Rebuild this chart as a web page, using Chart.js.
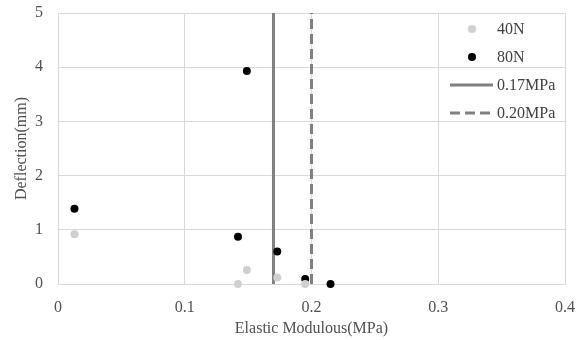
<!DOCTYPE html>
<html>
<head>
<meta charset="utf-8">
<script src="https://cdn.jsdelivr.net/npm/chart.js@4/dist/chart.umd.min.js"></script>
<style>
    html, body { margin: 0; padding: 0; background: #fff; }
    #wrap { width: 580px; height: 340px; position: relative; }
</style>
</head>
<body>
<div id="wrap"><canvas id="modulusChart"></canvas></div>
<script>
// data
const x40N = [0.013, 0.142, 0.149, 0.173, 0.195];
const y40N = [0.92, 0.0, 0.26, 0.12, 0.0];
const x80N = [0.013, 0.149, 0.142, 0.173, 0.195, 0.215];
const y80N = [1.39, 3.93, 0.87, 0.60, 0.09, 0.0];
const refLabels = ['0.17MPa', '0.20MPa'];
const refModulus = [0.17, 0.20];
const refSpan = [0, 5];
const xTicks = [0, 0.1, 0.2, 0.3, 0.4];
const yTicks = [0, 1, 2, 3, 4, 5];

const FONT = '"Liberation Serif", "Times New Roman", serif';
const TEXT = '#505050';
const GRID = '#d9d9d9';

function toPoints(xs, ys) {
    return xs.map((x, i) => ({ x: x, y: ys[i] }));
}

// legend drawn inside the plot area, top right
const insideLegend = {
    id: 'insideLegend',
    afterDraw(chart) {
        const ctx = chart.ctx;
        const x0 = 450, x1 = 493, textX = 497;
        ctx.save();
        ctx.font = '16px ' + FONT;
        ctx.textBaseline = 'middle';
        chart.data.datasets.forEach((ds, i) => {
            const y = 29 + i * 28;
            if (ds.showLine) {
                ctx.strokeStyle = ds.borderColor;
                ctx.lineWidth = ds.borderWidth;
                ctx.setLineDash(ds.borderDash || []);
                ctx.beginPath();
                ctx.moveTo(x0, y);
                ctx.lineTo(x1, y);
                ctx.stroke();
                ctx.setLineDash([]);
            } else {
                ctx.fillStyle = ds.backgroundColor;
                ctx.beginPath();
                ctx.arc(472, y, 4, 0, Math.PI * 2);
                ctx.fill();
            }
            ctx.fillStyle = '#404040';
            ctx.fillText(ds.label, textX, y + 1);
        });
        ctx.restore();
    }
};

const ctx = document.getElementById('modulusChart').getContext('2d');
new Chart(ctx, {
    type: 'scatter',
    data: {
        datasets: [
            {
                label: '40N',
                data: toPoints(x40N, y40N),
                backgroundColor: '#cfcfcf',
                borderWidth: 0,
                pointRadius: 4,
                clip: false
            },
            {
                label: '80N',
                data: toPoints(x80N, y80N),
                backgroundColor: '#000000',
                borderWidth: 0,
                pointRadius: 4,
                clip: false
            },
            {
                label: refLabels[0],
                data: refSpan.map(y => ({ x: refModulus[0], y: y })),
                showLine: true,
                borderColor: '#808080',
                borderWidth: 3,
                pointRadius: 0
            },
            {
                label: refLabels[1],
                data: refSpan.map(y => ({ x: refModulus[1], y: y })),
                showLine: true,
                borderColor: '#808080',
                borderWidth: 3,
                borderDash: [10, 5],
                pointRadius: 0
            }
        ]
    },
    options: {
        responsive: true,
        maintainAspectRatio: false,
        animation: false,
        layout: { padding: { left: 0, right: 15, top: 13, bottom: 0 } },
        plugins: {
            legend: { display: false },
            tooltip: { enabled: false }
        },
        scales: {
            x: {
                type: 'linear',
                min: 0,
                max: 0.4,
                afterBuildTicks: axis => { axis.ticks = xTicks.map(v => ({ value: v })); },
                afterFit: axis => {
                    axis.height = 56;
                    axis.paddingLeft = 0;
                    axis.paddingRight = 0;
                },
                ticks: {
                    color: TEXT,
                    padding: 14,
                    font: { family: FONT, size: 16 },
                    callback: v => String(v)
                },
                grid: { color: GRID, drawTicks: false },
                border: { color: GRID },
                title: {
                    display: true,
                    text: 'Elastic Modulous(MPa)',
                    color: TEXT,
                    font: { family: FONT, size: 16 },
                    padding: { top: 0, bottom: 2 }
                }
            },
            y: {
                type: 'linear',
                min: 0,
                max: 5,
                afterBuildTicks: axis => { axis.ticks = yTicks.map(v => ({ value: v })); },
                afterFit: axis => {
                    axis.width = 58;
                    axis.paddingTop = 0;
                    axis.paddingBottom = 0;
                },
                ticks: {
                    color: TEXT,
                    padding: 15,
                    font: { family: FONT, size: 16 }
                },
                grid: { color: GRID, drawTicks: false },
                border: { color: GRID },
                title: {
                    display: true,
                    text: 'Deflection(mm)',
                    color: TEXT,
                    font: { family: FONT, size: 16 },
                    padding: { top: 12, bottom: 0 }
                }
            }
        }
    },
    plugins: [insideLegend]
});
</script>
</body>
</html>
